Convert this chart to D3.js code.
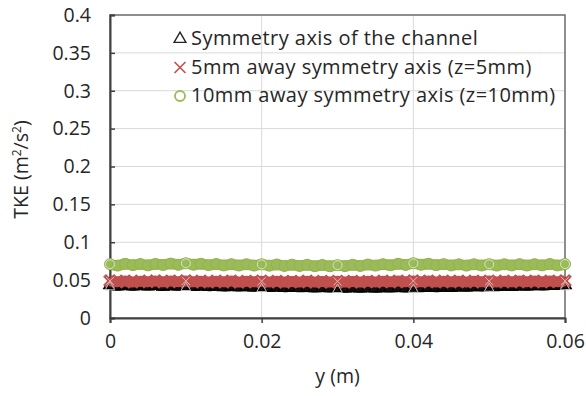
<!DOCTYPE html>
<html>
<head>
<meta charset="utf-8">
<script src="https://cdn.jsdelivr.net/npm/d3@7"></script>
<style>
    body { margin: 0; background: #fff; }
    #chart { width: 586px; height: 396px; }
    text { font-family: 'Open Sans', sans-serif; fill: #262626; }
</style>
</head>
<body>
<div id="chart"></div>
<script>
// positions along the channel, y (m)
const yPositions = [
    0.000, 0.001, 0.002, 0.003, 0.004, 0.005, 0.006, 0.007, 0.008, 0.009,
    0.010, 0.011, 0.012, 0.013, 0.014, 0.015, 0.016, 0.017, 0.018, 0.019,
    0.020, 0.021, 0.022, 0.023, 0.024, 0.025, 0.026, 0.027, 0.028, 0.029,
    0.030, 0.031, 0.032, 0.033, 0.034, 0.035, 0.036, 0.037, 0.038, 0.039,
    0.040, 0.041, 0.042, 0.043, 0.044, 0.045, 0.046, 0.047, 0.048, 0.049,
    0.050, 0.051, 0.052, 0.053, 0.054, 0.055, 0.056, 0.057, 0.058, 0.059,
    0.060
];

// TKE on the symmetry axis
const tkeAxis = [
    0.0435, 0.0420, 0.0432, 0.0418, 0.0430, 0.0421, 0.0428, 0.0416, 0.0425, 0.0419,
    0.0426, 0.0415, 0.0422, 0.0412, 0.0418, 0.0410, 0.0416, 0.0408, 0.0414, 0.0405,
    0.0412, 0.0404, 0.0409, 0.0400, 0.0406, 0.0398, 0.0403, 0.0396, 0.0401, 0.0395,
    0.0400, 0.0394, 0.0399, 0.0393, 0.0398, 0.0394, 0.0400, 0.0395, 0.0401, 0.0396,
    0.0402, 0.0398, 0.0404, 0.0400, 0.0406, 0.0402, 0.0410, 0.0406, 0.0413, 0.0410,
    0.0416, 0.0412, 0.0420, 0.0416, 0.0424, 0.0420, 0.0427, 0.0424, 0.0430, 0.0428,
    0.0436
];

// TKE 5mm away from the symmetry axis (z=5mm)
const tke5mm = [
    0.0490, 0.0478, 0.0488, 0.0476, 0.0486, 0.0479, 0.0489, 0.0477, 0.0487, 0.0480,
    0.0490, 0.0478, 0.0486, 0.0476, 0.0485, 0.0478, 0.0487, 0.0475, 0.0484, 0.0477,
    0.0486, 0.0476, 0.0484, 0.0474, 0.0483, 0.0476, 0.0485, 0.0474, 0.0482, 0.0475,
    0.0484, 0.0474, 0.0483, 0.0475, 0.0484, 0.0476, 0.0486, 0.0477, 0.0487, 0.0478,
    0.0489, 0.0477, 0.0487, 0.0476, 0.0485, 0.0477, 0.0486, 0.0476, 0.0485, 0.0477,
    0.0487, 0.0476, 0.0486, 0.0477, 0.0487, 0.0478, 0.0488, 0.0477, 0.0487, 0.0479,
    0.0490
];

// TKE 10mm away from the symmetry axis (z=10mm)
const tke10mm = [
    0.0710, 0.0692, 0.0715, 0.0698, 0.0712, 0.0695, 0.0714, 0.0700, 0.0718, 0.0702,
    0.0722, 0.0704, 0.0716, 0.0698, 0.0712, 0.0694, 0.0710, 0.0693, 0.0709, 0.0692,
    0.0708, 0.0691, 0.0706, 0.0688, 0.0704, 0.0687, 0.0702, 0.0684, 0.0700, 0.0683,
    0.0698, 0.0685, 0.0702, 0.0688, 0.0706, 0.0692, 0.0710, 0.0696, 0.0715, 0.0700,
    0.0722, 0.0703, 0.0716, 0.0698, 0.0711, 0.0694, 0.0708, 0.0692, 0.0709, 0.0693,
    0.0710, 0.0692, 0.0709, 0.0694, 0.0711, 0.0693, 0.0710, 0.0695, 0.0712, 0.0694,
    0.0712
];

const xTicks = [0, 0.02, 0.04, 0.06];
const yTicks = [0, 0.05, 0.1, 0.15, 0.2, 0.25, 0.3, 0.35, 0.4];
const seriesNames = [
    'Symmetry axis of the channel',
    '5mm away symmetry axis (z=5mm)',
    '10mm away symmetry axis (z=10mm)'
];

const margin = { top: 15, right: 21, bottom: 78, left: 110 };
const width = 586 - margin.left - margin.right;
const height = 396 - margin.top - margin.bottom;
const fontSize = '19.5px';

const root = d3.select('#chart')
    .append('svg')
    .attr('width', 586)
    .attr('height', 396);

const svg = root.append('g')
    .attr('transform', `translate(${margin.left},${margin.top})`);

const x = d3.scaleLinear().domain([0, 0.06]).range([0, width]);
const y = d3.scaleLinear().domain([0, 0.4]).range([height, 0]);

// gridlines
svg.selectAll('.hgrid')
    .data(yTicks.slice(1))
    .enter()
    .append('line')
    .attr('x1', 0).attr('x2', width)
    .attr('y1', d => y(d)).attr('y2', d => y(d))
    .attr('stroke', '#d9d9d9').attr('stroke-width', 1);

svg.selectAll('.vgrid')
    .data(xTicks.slice(1))
    .enter()
    .append('line')
    .attr('y1', 0).attr('y2', height)
    .attr('x1', d => x(d)).attr('x2', d => x(d))
    .attr('stroke', '#d9d9d9').attr('stroke-width', 1);

// plot area border
svg.append('rect')
    .attr('width', width).attr('height', height)
    .attr('fill', 'none')
    .attr('stroke', '#6f6f6f').attr('stroke-width', 1.5);

// axes
const xAxis = svg.append('g')
    .attr('transform', `translate(0,${height})`)
    .call(d3.axisBottom(x).tickValues(xTicks).tickFormat(d3.format('~g')).tickSize(5).tickPadding(11));
xAxis.select('.domain').attr('stroke', '#404040').attr('stroke-width', 2);
xAxis.selectAll('.tick line').attr('stroke', '#404040').attr('stroke-width', 1.5);
xAxis.selectAll('text').style('font-size', fontSize).style('fill', '#262626')
    .style('font-family', "'Open Sans', sans-serif");

const yAxis = svg.append('g')
    .call(d3.axisLeft(y).tickValues(yTicks).tickFormat(d3.format('~g')).tickSize(-5).tickPadding(19));
yAxis.select('.domain').attr('stroke', '#404040').attr('stroke-width', 2);
yAxis.selectAll('.tick line').attr('stroke', '#404040').attr('stroke-width', 1.5);
yAxis.selectAll('text').style('font-size', fontSize).style('fill', '#262626')
    .style('font-family', "'Open Sans', sans-serif");

// series: dense markers in the original merge into solid bands
const points = (vals) => yPositions.map((p, i) => ({ p, v: vals[i] }));
const line = d3.line().x(d => x(d.p)).y(d => y(d.v)).curve(d3.curveMonotoneX);
const sparse = (d) => Math.round(d.p * 1000) % 10 === 0;

// symmetry axis (triangles)
svg.append('path')
    .datum(points(tkeAxis))
    .attr('d', line)
    .attr('fill', 'none')
    .attr('stroke', '#000')
    .attr('stroke-width', 9);

svg.selectAll('.m-axis')
    .data(points(tkeAxis))
    .enter()
    .append('path')
    .attr('d', d3.symbol().type(d3.symbolTriangle).size(70))
    .attr('transform', d => `translate(${x(d.p)},${y(d.v)})`)
    .attr('fill', '#111')
    .attr('stroke', '#000')
    .attr('stroke-width', 1.2);

// 5mm (crosses)
svg.append('path')
    .datum(points(tke5mm))
    .attr('d', line)
    .attr('fill', 'none')
    .attr('stroke', '#c0504d')
    .attr('stroke-width', 11);

svg.selectAll('.m-5mm')
    .data(points(tke5mm))
    .enter()
    .append('path')
    .attr('d', d3.symbol().type(d3.symbolX).size(80))
    .attr('transform', d => `translate(${x(d.p)},${y(d.v)})`)
    .attr('fill', '#c0504d')
    .attr('stroke', '#c0504d')
    .attr('stroke-width', 4);

svg.selectAll('.m-5mm-hi')
    .data(points(tke5mm).filter(sparse))
    .enter()
    .append('path')
    .attr('d', d3.symbol().type(d3.symbolX).size(45))
    .attr('transform', d => `translate(${x(d.p)},${y(d.v)})`)
    .attr('fill', 'none')
    .attr('stroke', '#e9b3b1')
    .attr('stroke-width', 1);

// 10mm (circles)
svg.append('path')
    .datum(points(tke10mm))
    .attr('d', line)
    .attr('fill', 'none')
    .attr('stroke', '#9bbb59')
    .attr('stroke-width', 11);

svg.selectAll('.m-10mm')
    .data(points(tke10mm))
    .enter()
    .append('circle')
    .attr('cx', d => x(d.p))
    .attr('cy', d => y(d.v))
    .attr('r', 5.5)
    .attr('fill', '#9bbb59')
    .attr('stroke', '#92b450')
    .attr('stroke-width', 1);

svg.selectAll('.m-10mm-hi')
    .data(points(tke10mm).filter(sparse))
    .enter()
    .append('circle')
    .attr('cx', d => x(d.p))
    .attr('cy', d => y(d.v))
    .attr('r', 4.5)
    .attr('fill', 'none')
    .attr('stroke', '#d8e6bd')
    .attr('stroke-width', 1);

svg.selectAll('.m-axis-hi')
    .data(points(tkeAxis).filter(sparse))
    .enter()
    .append('path')
    .attr('d', d3.symbol().type(d3.symbolTriangle).size(40))
    .attr('transform', d => `translate(${x(d.p)},${y(d.v) + 2})`)
    .attr('fill', 'none')
    .attr('stroke', '#bdbdbd')
    .attr('stroke-width', 1);

// legend
const legend = svg.append('g')
    .attr('transform', 'translate(68, 23)');

const legendItems = legend.selectAll('.legend-item')
    .data(seriesNames)
    .enter()
    .append('g')
    .attr('transform', (d, i) => `translate(0, ${i * 28.5})`);

legendItems.append('text')
    .attr('x', 13)
    .attr('y', 7)
    .style('font-size', '20px')
    .style('letter-spacing', '0.45px')
    .text(d => d);

legendItems.filter((d, i) => i === 0).append('path')
    .attr('d', d3.symbol().type(d3.symbolTriangle).size(60))
    .attr('transform', 'translate(2,1)')
    .attr('fill', 'none').attr('stroke', '#262626').attr('stroke-width', 1.4);

legendItems.filter((d, i) => i === 1).append('path')
    .attr('d', d3.symbol().type(d3.symbolX).size(80))
    .attr('transform', 'translate(2,1)')
    .attr('fill', 'none').attr('stroke', '#c0504d').attr('stroke-width', 1.6);

legendItems.filter((d, i) => i === 2).append('circle')
    .attr('cx', 2).attr('cy', 1).attr('r', 5)
    .attr('fill', 'none').attr('stroke', '#9bbb59').attr('stroke-width', 1.8);

// axis titles
root.append('text')
    .attr('x', margin.left + width / 2)
    .attr('y', 383)
    .attr('text-anchor', 'middle')
    .style('font-size', fontSize)
    .text('y (m)');

const yTitle = root.append('text')
    .attr('transform', `translate(28, ${margin.top + height / 2 + 3}) rotate(-90)`)
    .attr('text-anchor', 'middle')
    .style('font-size', fontSize);
yTitle.append('tspan').text('TKE (m');
yTitle.append('tspan').attr('dy', -7).style('font-size', '12px').text('2');
yTitle.append('tspan').attr('dy', 7).text('/s');
yTitle.append('tspan').attr('dy', -7).style('font-size', '12px').text('2');
yTitle.append('tspan').attr('dy', 7).text(')');
</script>
</body>
</html>
